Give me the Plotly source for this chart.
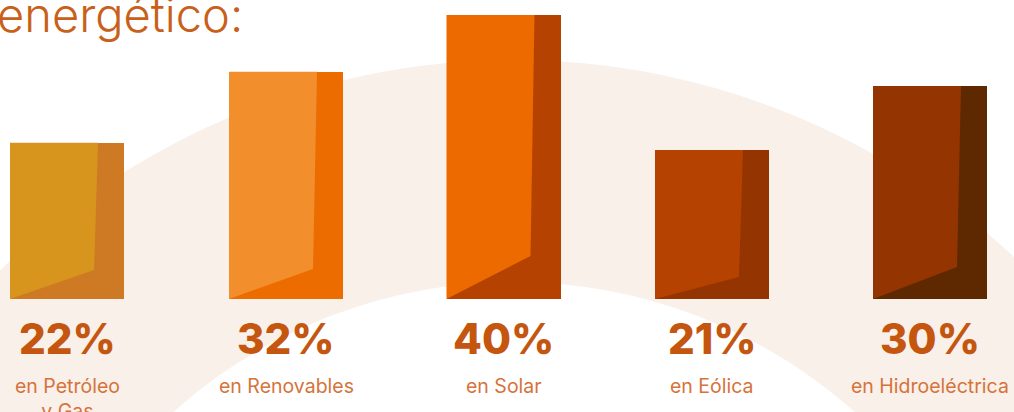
import numpy as np
import plotly.graph_objects as go

# ---- data ----
categories = ["Petróleo y Gas", "Renovables", "Solar", "Eólica", "Hidroeléctrica"]
values = [22, 32, 40, 21, 30]
value_labels = ["22%", "32%", "40%", "21%", "30%"]
sub_labels = ["en Petróleo<br>y Gas", "en Renovables", "en Solar", "en Eólica", "en Hidroeléctrica"]

# ---- style / layout ----
front_colors = ["#D7951D", "#F28F2C", "#EC6A00", "#B54200", "#943400"]
dark_colors = ["#CE7A25", "#EC6C00", "#B54200", "#943400", "#5E2900"]
bar_centers = [67, 286, 503.5, 712, 930]   # horizontal slots (layout)
knee_px = [29, 30, 43, 22, 32]

W, H = 1014, 412
PX_PER_UNIT = 7.1
BASE_PX = 299.0
BAR_W = 114

x_range = [0, W]
y_range = [-(H - BASE_PX) / PX_PER_UNIT, BASE_PX / PX_PER_UNIT]

fig = go.Figure()

# background annulus (decoration) in paper coords
cx, cy = 514.0, 793.0
r_in, r_out = 511.0, 733.0
th = np.linspace(np.pi * 1.02, np.pi * 1.98, 200)
pts_out = [(cx + r_out * np.cos(t), cy + r_out * np.sin(t)) for t in th]
pts_in = [(cx + r_in * np.cos(t), cy + r_in * np.sin(t)) for t in th[::-1]]
pts = pts_out + pts_in
path = "M " + " L ".join(f"{px / W:.5f},{1 - py / H:.5f}" for px, py in pts) + " Z"
fig.add_shape(type="path", path=path, xref="paper", yref="paper",
              fillcolor="#F9F0EA", line=dict(width=0), layer="below")

# full bars (dark side)
fig.add_trace(go.Bar(x=bar_centers, y=values, width=BAR_W,
                     marker=dict(color=dark_colors, line=dict(width=0)),
                     hoverinfo="skip", showlegend=False))

# lighter front faces
for i, v in enumerate(values):
    left = bar_centers[i] - BAR_W / 2
    split_top = left + 88
    split_knee = left + 84
    ky = knee_px[i] / PX_PER_UNIT
    fig.add_trace(go.Scatter(
        x=[left, split_top, split_knee, left, left],
        y=[v, v, ky, 0, v],
        fill="toself", fillcolor=front_colors[i], mode="lines",
        line=dict(width=0), hoverinfo="skip", showlegend=False))

# annotations
for i in range(len(values)):
    fig.add_annotation(x=bar_centers[i], y=(BASE_PX - 338) / PX_PER_UNIT, text=value_labels[i], showarrow=False,
                       font=dict(family="Inter", size=42, color="#C4560F", weight=800),
                       xanchor="center", yanchor="middle")
    fig.add_annotation(x=bar_centers[i], y=(BASE_PX - 372) / PX_PER_UNIT, text=sub_labels[i], showarrow=False,
                       font=dict(family="Inter", size=19.5, color="#D5733A", weight=400),
                       xanchor="center", yanchor="top", align="center")

fig.add_annotation(x=-0.005, y=1.04, xref="paper", yref="paper", text="energético:", showarrow=False,
                   font=dict(family="Inter", size=47, color="#C8601A", weight=300),
                   xanchor="left", yanchor="top")

fig.update_layout(
    width=W, height=H, margin=dict(l=0, r=0, t=0, b=0),
    paper_bgcolor="white", plot_bgcolor="rgba(0,0,0,0)",
    xaxis=dict(range=x_range, visible=False, fixedrange=True),
    yaxis=dict(range=y_range, visible=False, fixedrange=True),
    bargap=0, showlegend=False,
)

fig.write_html("out.html")
